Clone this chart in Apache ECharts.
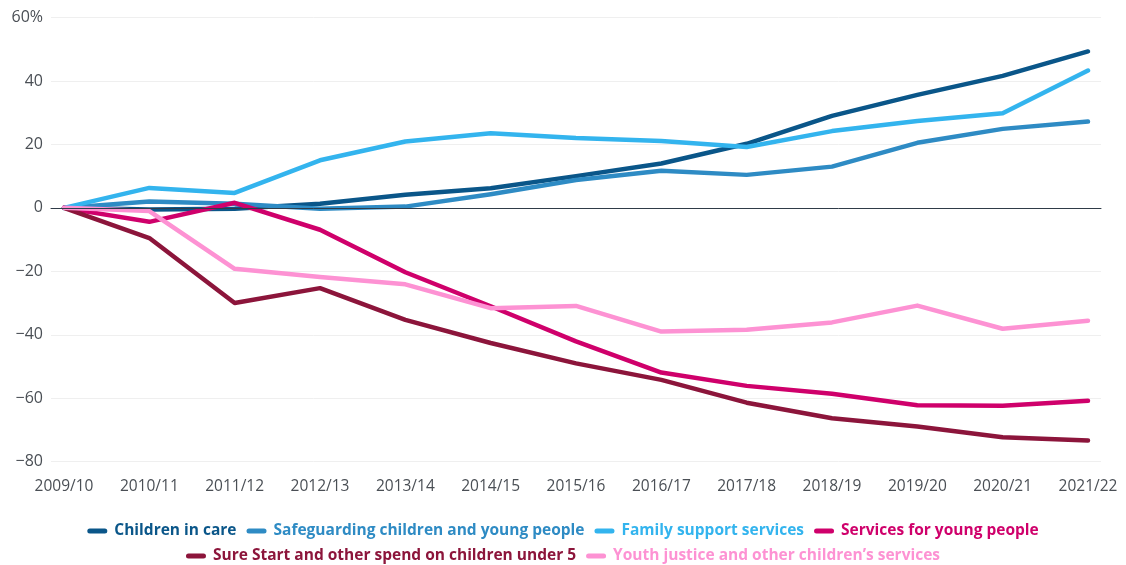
<!DOCTYPE html>
<html>
<head>
<meta charset="utf-8">
<script src="https://cdn.jsdelivr.net/npm/echarts@6/dist/echarts.min.js"></script>
<style>
html,body{margin:0;padding:0;background:#fff;}
#c{width:1126px;height:565px;}
</style>
</head>
<body>
<div id="c"></div>
<script>
const categories = ['2009/10','2010/11','2011/12','2012/13','2013/14','2014/15','2015/16','2016/17','2017/18','2018/19','2019/20','2020/21','2021/22'];
const yTicks = [-80,-60,-40,-20,0,20,40,60];

const childrenInCare = [0,-0.5,-0.3,1.3,4.1,6.2,10.0,14.0,20.2,29.0,35.6,41.6,49.3];
const safeguarding   = [0,2.0,1.3,-0.3,0.4,4.3,8.8,11.7,10.4,13.0,20.5,24.9,27.2];
const familySupport  = [0,6.3,4.7,15.0,20.9,23.5,22.0,21.1,19.2,24.2,27.4,29.8,43.3];
const youngPeople    = [0,-4.4,1.6,-6.9,-20.3,-31.0,-42.1,-51.9,-56.1,-58.6,-62.2,-62.4,-60.8];
const sureStart      = [0,-9.5,-30.0,-25.3,-35.3,-42.6,-49.0,-54.2,-61.4,-66.3,-68.9,-72.3,-73.3];
const youthJustice   = [0,-1.0,-19.2,-21.8,-24.1,-31.6,-30.9,-39.0,-38.4,-36.1,-30.8,-38.1,-35.6];

const names = ['Children in care','Safeguarding children and young people','Family support services','Services for young people','Sure Start and other spend on children under 5','Youth justice and other children\u2019s services'];
const colors = ['#0a5689','#2e8bc4','#33b4ee','#cf006b','#8c153b','#fd92d3'];
const seriesData = [childrenInCare, safeguarding, familySupport, youngPeople, sureStart, youthJustice];

const chart = echarts.init(document.getElementById('c'), null, {renderer:'canvas'});
const iconPath = 'path://M2.5,0 L17.5,0 A2.5,2.5 0 0 1 17.5,5 L2.5,5 A2.5,2.5 0 0 1 2.5,0 Z';
const legendText = {fontFamily:'Open Sans', fontSize:15.5, fontWeight:'bold', padding:[0,0,0,2]};

function legendFor(idx, top){
  return {
    top: top, left: 'center', itemWidth: 20, itemHeight: 5, itemGap: 10,
    icon: iconPath,
    data: idx.map(i => ({name: names[i], textStyle: Object.assign({color: colors[i]}, legendText)})),
    textStyle: legendText,
    selectedMode: false
  };
}

const option = {
  animation: false,
  backgroundColor: '#fff',
  color: colors,
  grid: [
    {left: 51, right: 25, top: 17.5, bottom: 103.3},
    {left: 64, right: 38, top: 17.5, bottom: 103.3}
  ],
  legend: [legendFor([0,1,2,3], 518), legendFor([4,5], 543)],
  xAxis: [
    {type:'value', gridIndex:0, min:0, max:1, z:5,
     axisLine:{show:true, onZero:true, lineStyle:{color:'#2f3b48', width:1}},
     axisTick:{show:false}, axisLabel:{show:false}, splitLine:{show:false}},
    {type:'category', gridIndex:1, data: categories, boundaryGap:false,
     axisLine:{show:false}, axisTick:{show:false},
     axisLabel:{color:'#4a4f55', fontFamily:'Open Sans', fontSize:15.5, margin:17, interval:0},
     splitLine:{show:false}}
  ],
  yAxis: [
    {type:'value', gridIndex:0, min:-80, max:60, interval:20,
     axisLine:{show:false}, axisTick:{show:false},
     axisLabel:{color:'#4a4f55', fontFamily:'Open Sans', fontSize:16, margin:8,
       formatter: v => v === 60 ? '60%' : (v < 0 ? '\u2212' + Math.abs(v) : String(v))},
     splitLine:{show:true, lineStyle:{color:'#efefef', width:1}}},
    {type:'value', gridIndex:1, min:-80, max:60, interval:20, show:false, splitLine:{show:false}}
  ],
  series: seriesData.map((d, i) => ({
    name: names[i], type:'line', xAxisIndex:1, yAxisIndex:1, data: d,
    symbol:'none', z: 2,
    lineStyle:{color: colors[i], width:4.5, cap:'round', join:'round'},
    itemStyle:{color: colors[i]}
  }))
};
chart.setOption(option);
</script>
</body>
</html>
